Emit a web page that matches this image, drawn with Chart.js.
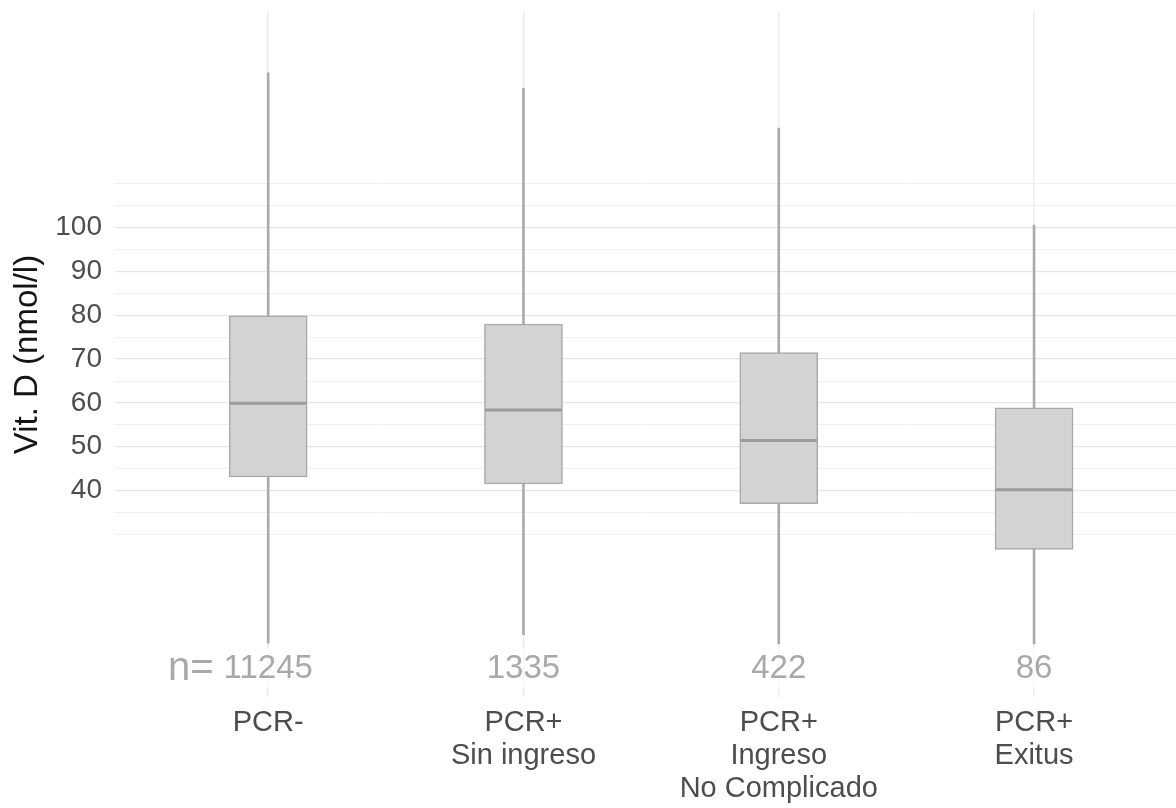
<!DOCTYPE html>
<html>
<head>
<meta charset="utf-8">
<script src="https://cdn.jsdelivr.net/npm/chart.js@4/dist/chart.umd.min.js"></script>
<style>
  body { margin: 0; background: #fff; }
  canvas { display: block; }
</style>
</head>
<body>
<canvas id="box-chart" width="1176" height="808"></canvas>
<script>
const categories = [["PCR-"], ["PCR+", "Sin ingreso"], ["PCR+", "Ingreso", "No Complicado"], ["PCR+", "Exitus"]];
const nCounts = ["11245", "1335", "422", "86"];

const whiskerLow  = [5.2, 7.1, 5.0, 5.0];
const q1          = [43.1, 41.5, 37.0, 26.6];
const median      = [59.9, 58.4, 51.4, 40.2];
const q3          = [79.9, 78.0, 71.5, 58.9];
const whiskerHigh = [135.3, 131.8, 122.7, 100.6];

const yLabels = [40, 50, 60, 70, 80, 90, 100];
const yGrid = [30, 35, 40, 45, 50, 55, 60, 65, 70, 75, 80, 85, 90, 95, 100, 105, 110];

const FONT = "'Liberation Sans', Arial, sans-serif";

// n= labels drawn over the lower part of the panel
const nLabels = {
  id: 'nLabels',
  afterDatasetsDraw(chart) {
    const ctx = chart.ctx;
    const x = chart.scales.x;
    const y = chart.chartArea.bottom - 29;
    ctx.save();
    ctx.textBaseline = 'middle';
    ctx.textAlign = 'center';
    ctx.font = '33px ' + FONT;
    nCounts.forEach((n, i) => {
      const px = x.getPixelForValue(i + 1);
      const w = ctx.measureText(n).width;
      ctx.fillStyle = 'rgba(255,255,255,0.6)';
      ctx.fillRect(px - w / 2 - 6, y - 20, w + 12, 40);
      ctx.fillStyle = '#a9a9a9';
      ctx.fillText(n, px, y + 1);
      if (i === 0) {
        ctx.save();
        ctx.font = '40px ' + FONT;
        ctx.textAlign = 'right';
        ctx.fillText('n=', px - w / 2 - 10, y + 1);
        ctx.restore();
      }
    });
    ctx.restore();
  }
};

const noPad = (s) => { s.paddingTop = 0; s.paddingBottom = 0; s.paddingLeft = 0; s.paddingRight = 0; };

new Chart(document.getElementById("box-chart"), {
  type: 'bar',
  data: {
    datasets: [
      {
        type: 'scatter',
        data: median.map((v, i) => ({ x: i + 1, y: v })),
        pointStyle: 'line',
        pointRadius: 38.5,
        pointBorderWidth: 3,
        pointBorderColor: '#9c9c9c',
        order: 0
      },
      {
        data: q1.map((v, i) => ({ x: i + 1, y: [v, q3[i]] })),
        backgroundColor: '#d3d3d3',
        borderColor: '#a8a8a8',
        borderWidth: 1.5,
        borderSkipped: false,
        barThickness: 78,
        grouped: false,
        order: 1
      },
      {
        data: whiskerLow.map((v, i) => ({ x: i + 1, y: [v, whiskerHigh[i]] })),
        backgroundColor: '#ababab',
        borderWidth: 0,
        barThickness: 2,
        grouped: false,
        order: 2
      }
    ]
  },
  options: {
    responsive: false,
    animation: false,
    devicePixelRatio: 1,
    layout: { autoPadding: false, padding: { top: 12, right: 0, bottom: 0, left: 0 } },
    plugins: {
      legend: { display: false },
      tooltip: { enabled: false }
    },
    scales: {
      x: {
        type: 'linear',
        offset: false,
        min: 0.4,
        max: 4.556,
        afterBuildTicks: (s) => { s.ticks = categories.map((c, i) => ({ value: i + 1 })); },
        afterFit: (s) => { s.height = 111; noPad(s); },
        border: { display: false },
        grid: { color: '#ececec', lineWidth: 1.5, drawTicks: false, offset: false },
        ticks: {
          padding: 9,
          color: '#4d4d4d',
          font: { family: FONT, size: 29, lineHeight: 1.14 },
          maxRotation: 0,
          autoSkip: false,
          callback: (v) => categories[v - 1]
        }
      },
      y: {
        min: -7.1,
        max: 149.2,
        afterBuildTicks: (s) => { s.ticks = yGrid.map(v => ({ value: v })); },
        afterFit: (s) => { s.width = 115; noPad(s); },
        border: { display: false },
        grid: {
          drawTicks: false,
          color: (c) => yLabels.includes(c.tick.value) ? '#e6e6e6' : '#f0f0f0',
          lineWidth: (c) => yLabels.includes(c.tick.value) ? 1.3 : 1
        },
        ticks: {
          padding: 13,
          color: '#4d4d4d',
          font: { family: FONT, size: 28 },
          autoSkip: false,
          callback: (v) => yLabels.includes(v) ? String(v) : ''
        },
        title: {
          display: true,
          text: 'Vit. D (nmol/l)',
          color: '#141414',
          font: { family: FONT, size: 33 },
          padding: { top: 8, bottom: 0 }
        }
      }
    }
  },
  plugins: [nLabels]
});
</script>
</body>
</html>
